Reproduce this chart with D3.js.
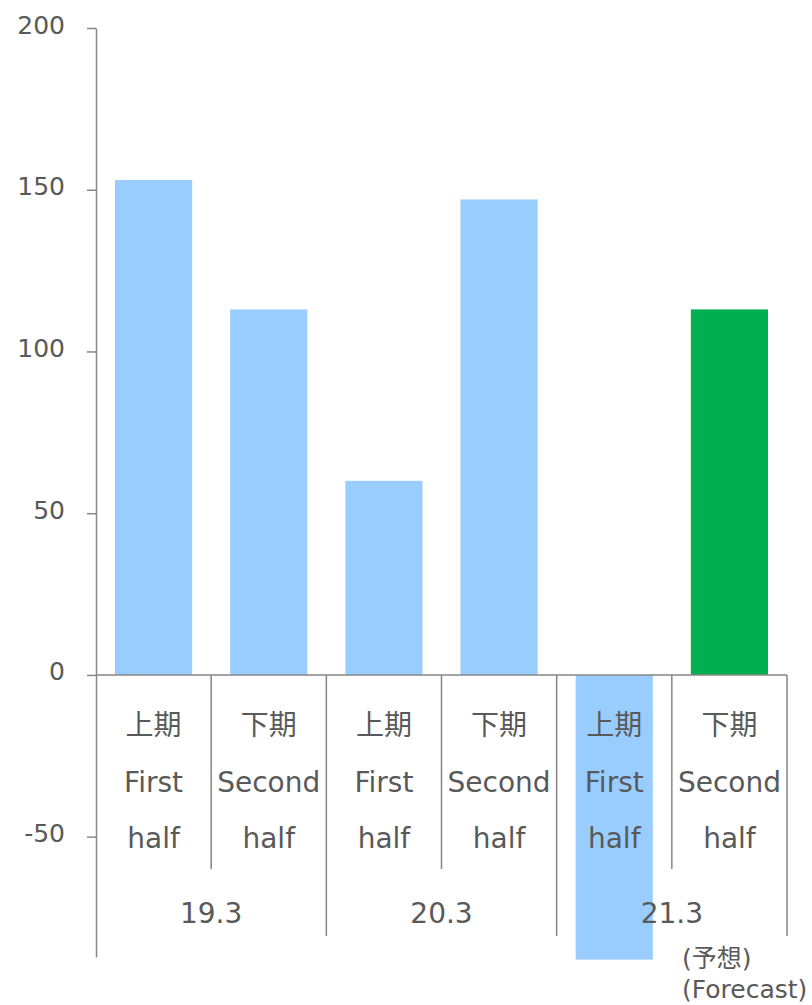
<!DOCTYPE html>
<html lang="ja">
<head>
<meta charset="utf-8">
<title>Half-year chart</title>
<script src="https://d3js.org/d3.v7.min.js"></script>
<style>
  body { margin: 0; background: #fff; }
  svg text { font-family: "DejaVu Sans", "Noto Sans CJK JP", sans-serif; fill: #595959; }
  .axis path, .axis line { stroke: #868686; stroke-width: 1.5px; }
</style>
</head>
<body>
<div id="chart"></div>
<script>
// data
const periods = ["19.3", "20.3", "21.3"];
const halvesJa = ["上期", "下期"];
const halvesEn = [["First", "half"], ["Second", "half"]];
const values = [153, 113, 60, 147, -88, 113];
const isForecast = [false, false, false, false, false, true];
const yTicks = [-50, 0, 50, 100, 150, 200];
const forecastNote = ["(予想)", "(Forecast)"];

const W = 812, H = 1005;
const left = 96, right = 787;

const svg = d3.select("#chart").append("svg")
    .attr("width", W).attr("height", H);

const cats = values.map((v, i) => i);

const x = d3.scaleBand()
    .domain(cats)
    .range([left, right])
    .paddingInner(0.33)
    .paddingOuter(0.165);
const step = x.step();

const y = d3.scaleLinear()
    .domain([-87.2, 200])
    .range([957, 28]);

// bars
svg.selectAll(".bar")
  .data(values)
  .enter().append("rect")
    .attr("class", "bar")
    .attr("x", (d, i) => x(i))
    .attr("width", x.bandwidth())
    .attr("y", d => y(Math.max(0, d)))
    .attr("height", d => Math.abs(y(d) - y(0)))
    .attr("fill", (d, i) => isForecast[i] ? "#00B050" : "#99CCFF");

// y axis (plain hyphen for negatives, like the original)
const yAxis = d3.axisLeft(y).tickValues(yTicks)
    .tickFormat(d => String(d))
    .tickSize(9).tickSizeOuter(0).tickPadding(22);
const ga = svg.append("g").attr("class", "axis")
    .attr("transform", "translate(" + left + ",0)")
    .call(yAxis);
ga.selectAll("text")
    .style("font-size", "25px")
    .attr("dy", "0.32em")
    .attr("y", -3);

// zero line
svg.append("line")
    .attr("x1", left).attr("x2", right)
    .attr("y1", y(0)).attr("y2", y(0))
    .attr("stroke", "#868686").attr("stroke-width", 1.5);

// category separators
cats.forEach(i => {
  const xb = left + (i + 1) * step;
  svg.append("line")
      .attr("x1", xb).attr("x2", xb)
      .attr("y1", y(0)).attr("y2", i % 2 === 1 ? 936 : 869)
      .attr("stroke", "#868686").attr("stroke-width", 1.5);
});

// category labels
cats.forEach(i => {
  const cx = x(i) + x.bandwidth() / 2;
  const h = i % 2;
  const lines = [halvesJa[h]].concat(halvesEn[h]);
  lines.forEach((t, k) => {
    svg.append("text")
        .attr("x", cx)
        .attr("y", 735 + k * 56.5)
        .attr("text-anchor", "middle")
        .style("font-size", "28px")
        .text(t);
  });
});

// period labels
periods.forEach((p, g) => {
  svg.append("text")
      .attr("x", left + (g * 2 + 1) * step)
      .attr("y", 923)
      .attr("text-anchor", "middle")
      .style("font-size", "28px")
      .text(p);
});

// forecast note
forecastNote.forEach((t, k) => {
  svg.append("text")
      .attr("x", 682)
      .attr("y", 967 + k * 31)
      .style("font-size", "25px")
      .text(t);
});
</script>
</body>
</html>
